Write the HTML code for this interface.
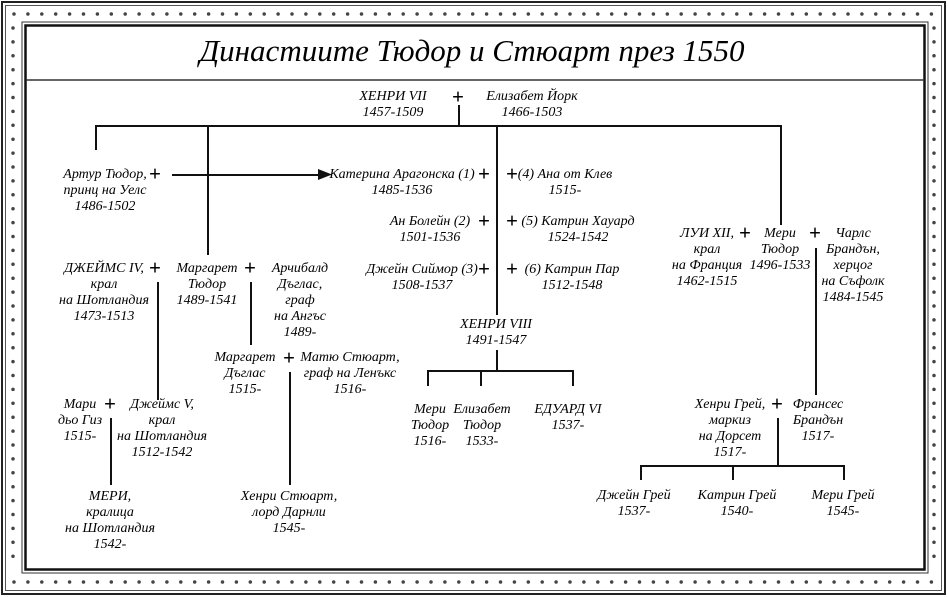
<!DOCTYPE html>
<html><head><meta charset="utf-8"><style>
body{margin:0;width:948px;height:597px;background:#fff;position:relative;overflow:hidden;font-family:"Liberation Serif",serif;color:#000}
.t{position:absolute;transform:translateX(-50%);text-align:center;font-style:italic;font-size:14px;line-height:16px;white-space:nowrap}
.p{position:absolute;transform:translate(-50%,-50%);font-size:21px;line-height:21px;font-weight:bold}
.h{position:absolute;height:1.5px;background:#111}
.v{position:absolute;width:1.5px;background:#111}
</style></head><body>
<svg width="948" height="597" style="position:absolute;left:0;top:0">
<rect x="2" y="2" width="943" height="592" fill="none" stroke="#222" stroke-width="2"/>
<rect x="5.5" y="5.5" width="936" height="585" fill="none" stroke="#555" stroke-width="1"/>
<rect x="22" y="22" width="906" height="551" fill="none" stroke="#333" stroke-width="1"/>
<rect x="25.5" y="25.5" width="899" height="544" fill="none" stroke="#111" stroke-width="2.5"/>
<line x1="26" y1="80" x2="924" y2="80" stroke="#333" stroke-width="1.5"/>
<line x1="14" y1="14" x2="934" y2="14" stroke="#444" stroke-width="3.5" stroke-linecap="round" stroke-dasharray="0 13.9"/>
<line x1="14" y1="582" x2="934" y2="582" stroke="#444" stroke-width="3.5" stroke-linecap="round" stroke-dasharray="0 13.9"/>
<line x1="13" y1="28" x2="13" y2="570" stroke="#444" stroke-width="3.5" stroke-linecap="round" stroke-dasharray="0 13.9"/>
<line x1="934" y1="28" x2="934" y2="570" stroke="#444" stroke-width="3.5" stroke-linecap="round" stroke-dasharray="0 13.9"/>
</svg>
<div class="t" style="left:472px;top:33px;font-size:31px;line-height:36px">Династиите Тюдор и Стюарт през 1550</div>

<div class="v" style="left:458px;top:105px;height:20px"></div>
<div class="h" style="left:95px;top:125px;width:686px"></div>
<div class="v" style="left:95px;top:125px;height:25px"></div>
<div class="v" style="left:207px;top:125px;height:130px"></div>
<div class="v" style="left:496px;top:125px;height:190px"></div>
<div class="v" style="left:780px;top:125px;height:100px"></div>
<div class="h" style="left:172px;top:174px;width:150px"></div>
<svg style="position:absolute;left:318px;top:169px" width="14" height="11"><polygon points="0,0 14,5.5 0,11" fill="#111"/></svg>

<div class="t" style="left:393px;top:89px">ХЕНРИ VII<br>1457-1509</div>
<div class="p" style="left:458px;top:97px">+</div>
<div class="t" style="left:532px;top:89px">Елизабет Йорк<br>1466-1503</div>

<div class="t" style="left:105px;top:167px">Артур Тюдор,<br>принц на Уелс<br>1486-1502</div>
<div class="p" style="left:155px;top:174px">+</div>

<div class="t" style="left:402px;top:167px">Катерина Арагонска (1)<br>1485-1536</div>
<div class="p" style="left:484px;top:174px">+</div>
<div class="p" style="left:512px;top:174px">+</div>
<div class="t" style="left:565px;top:167px">(4) Ана от Клев<br>1515-</div>
<div class="t" style="left:430px;top:214px">Ан Болейн (2)<br>1501-1536</div>
<div class="p" style="left:484px;top:221px">+</div>
<div class="p" style="left:512px;top:221px">+</div>
<div class="t" style="left:578px;top:214px">(5) Катрин Хауард<br>1524-1542</div>
<div class="t" style="left:422px;top:262px">Джейн Сиймор (3)<br>1508-1537</div>
<div class="p" style="left:484px;top:269px">+</div>
<div class="p" style="left:512px;top:269px">+</div>
<div class="t" style="left:572px;top:262px">(6) Катрин Пар<br>1512-1548</div>

<div class="t" style="left:496px;top:317px">ХЕНРИ VIII<br>1491-1547</div>
<div class="v" style="left:496px;top:350px;height:20px"></div>
<div class="h" style="left:427px;top:370px;width:146px"></div>
<div class="v" style="left:427px;top:370px;height:16px"></div>
<div class="v" style="left:480px;top:370px;height:16px"></div>
<div class="v" style="left:572px;top:370px;height:16px"></div>
<div class="t" style="left:430px;top:402px">Мери<br>Тюдор<br>1516-</div>
<div class="t" style="left:482px;top:402px">Елизабет<br>Тюдор<br>1533-</div>
<div class="t" style="left:568px;top:402px">ЕДУАРД VI<br>1537-</div>

<div class="t" style="left:104px;top:261px">ДЖЕЙМС IV,<br>крал<br>на Шотландия<br>1473-1513</div>
<div class="p" style="left:155px;top:268px">+</div>
<div class="v" style="left:157px;top:282px;height:118px"></div>
<div class="t" style="left:207px;top:261px">Маргарет<br>Тюдор<br>1489-1541</div>
<div class="p" style="left:250px;top:268px">+</div>
<div class="v" style="left:250px;top:282px;height:63px"></div>
<div class="t" style="left:300px;top:261px">Арчибалд<br>Дъглас,<br>граф<br>на Ангъс<br>1489-</div>

<div class="t" style="left:245px;top:350px">Маргарет<br>Дъглас<br>1515-</div>
<div class="p" style="left:289px;top:358px">+</div>
<div class="v" style="left:289px;top:372px;height:113px"></div>
<div class="t" style="left:350px;top:350px">Матю Стюарт,<br>граф на Ленъкс<br>1516-</div>

<div class="t" style="left:80px;top:397px">Мари<br>дьо Гиз<br>1515-</div>
<div class="p" style="left:110px;top:404px">+</div>
<div class="v" style="left:110px;top:418px;height:67px"></div>
<div class="t" style="left:162px;top:397px">Джеймс V,<br>крал<br>на Шотландия<br>1512-1542</div>
<div class="t" style="left:110px;top:489px">МЕРИ,<br>кралица<br>на Шотландия<br>1542-</div>
<div class="t" style="left:289px;top:489px">Хенри Стюарт,<br>лорд Дарнли<br>1545-</div>

<div class="t" style="left:707px;top:226px">ЛУИ XII,<br>крал<br>на Франция<br>1462-1515</div>
<div class="p" style="left:745px;top:233px">+</div>
<div class="t" style="left:780px;top:226px">Мери<br>Тюдор<br>1496-1533</div>
<div class="p" style="left:815px;top:233px">+</div>
<div class="v" style="left:815px;top:248px;height:147px"></div>
<div class="t" style="left:853px;top:226px">Чарлс<br>Брандън,<br>херцог<br>на Съфолк<br>1484-1545</div>

<div class="t" style="left:730px;top:397px">Хенри Грей,<br>маркиз<br>на Дорсет<br>1517-</div>
<div class="p" style="left:777px;top:404px">+</div>
<div class="v" style="left:777px;top:418px;height:48px"></div>
<div class="t" style="left:818px;top:397px">Франсес<br>Брандън<br>1517-</div>
<div class="h" style="left:640px;top:465px;width:204px"></div>
<div class="v" style="left:640px;top:465px;height:15px"></div>
<div class="v" style="left:732px;top:465px;height:15px"></div>
<div class="v" style="left:843px;top:465px;height:15px"></div>
<div class="t" style="left:634px;top:488px">Джейн Грей<br>1537-</div>
<div class="t" style="left:737px;top:488px">Катрин Грей<br>1540-</div>
<div class="t" style="left:843px;top:488px">Мери Грей<br>1545-</div>
</body></html>
